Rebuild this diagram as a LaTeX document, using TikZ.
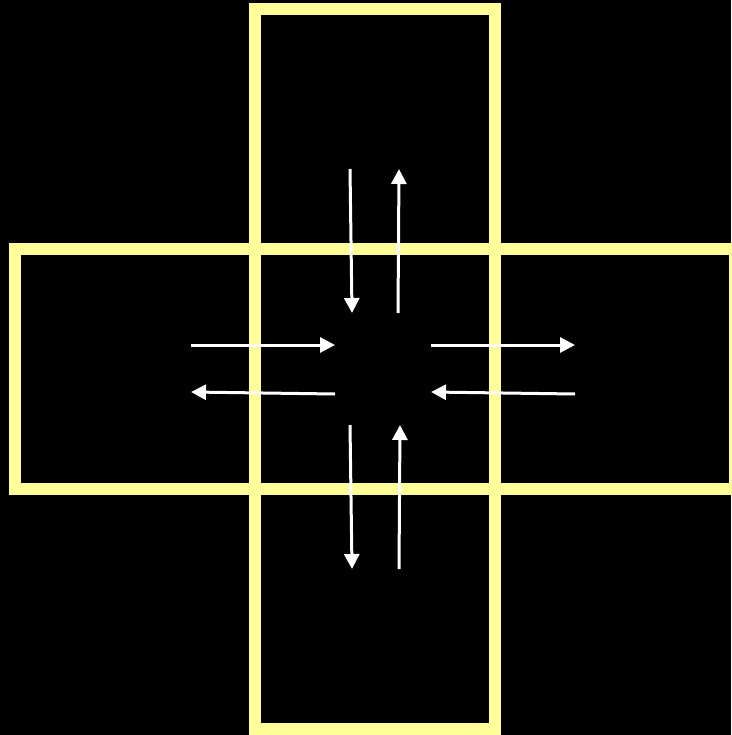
\documentclass[tikz,border=0pt]{standalone}
\usepackage{xcolor}
\usepackage{tikz}
\usetikzlibrary{arrows.meta}
\definecolor{laneyellow}{HTML}{FFFF99}

\begin{document}
\begin{tikzpicture}[>={Triangle[length=15pt,width=15pt]},x=1pt,y=-1pt,
    road/.style={draw=laneyellow,line width=12pt},
    flow/.style={white,line width=3pt,->}]
  \fill[black] (0,0) rectangle (731,735);
  \useasboundingbox (0,0) rectangle (731,735);

  % the two crossing roads
  \draw[road] (255,9) rectangle (495,729);
  \draw[road] (15,249) rectangle (735,489);

  % arrow ends
  \coordinate (n1) at (350,169);  \coordinate (n2) at (352,313);
  \coordinate (n3) at (398,313);  \coordinate (n4) at (399,169);
  \coordinate (w1) at (191,345);  \coordinate (w2) at (335,345);
  \coordinate (w3) at (335,394);  \coordinate (w4) at (191,392);
  \coordinate (e1) at (431,345);  \coordinate (e2) at (575,345);
  \coordinate (e3) at (575,394);  \coordinate (e4) at (431,392);
  \coordinate (s1) at (350,425);  \coordinate (s2) at (352,569);
  \coordinate (s3) at (399,569);  \coordinate (s4) at (400,425);

  \draw[flow] (n1) -- (n2);
  \draw[flow] (n3) -- (n4);
  \draw[flow] (w1) -- (w2);
  \draw[flow] (w3) -- (w4);
  \draw[flow] (e1) -- (e2);
  \draw[flow] (e3) -- (e4);
  \draw[flow] (s1) -- (s2);
  \draw[flow] (s3) -- (s4);
\end{tikzpicture}
\end{document}
